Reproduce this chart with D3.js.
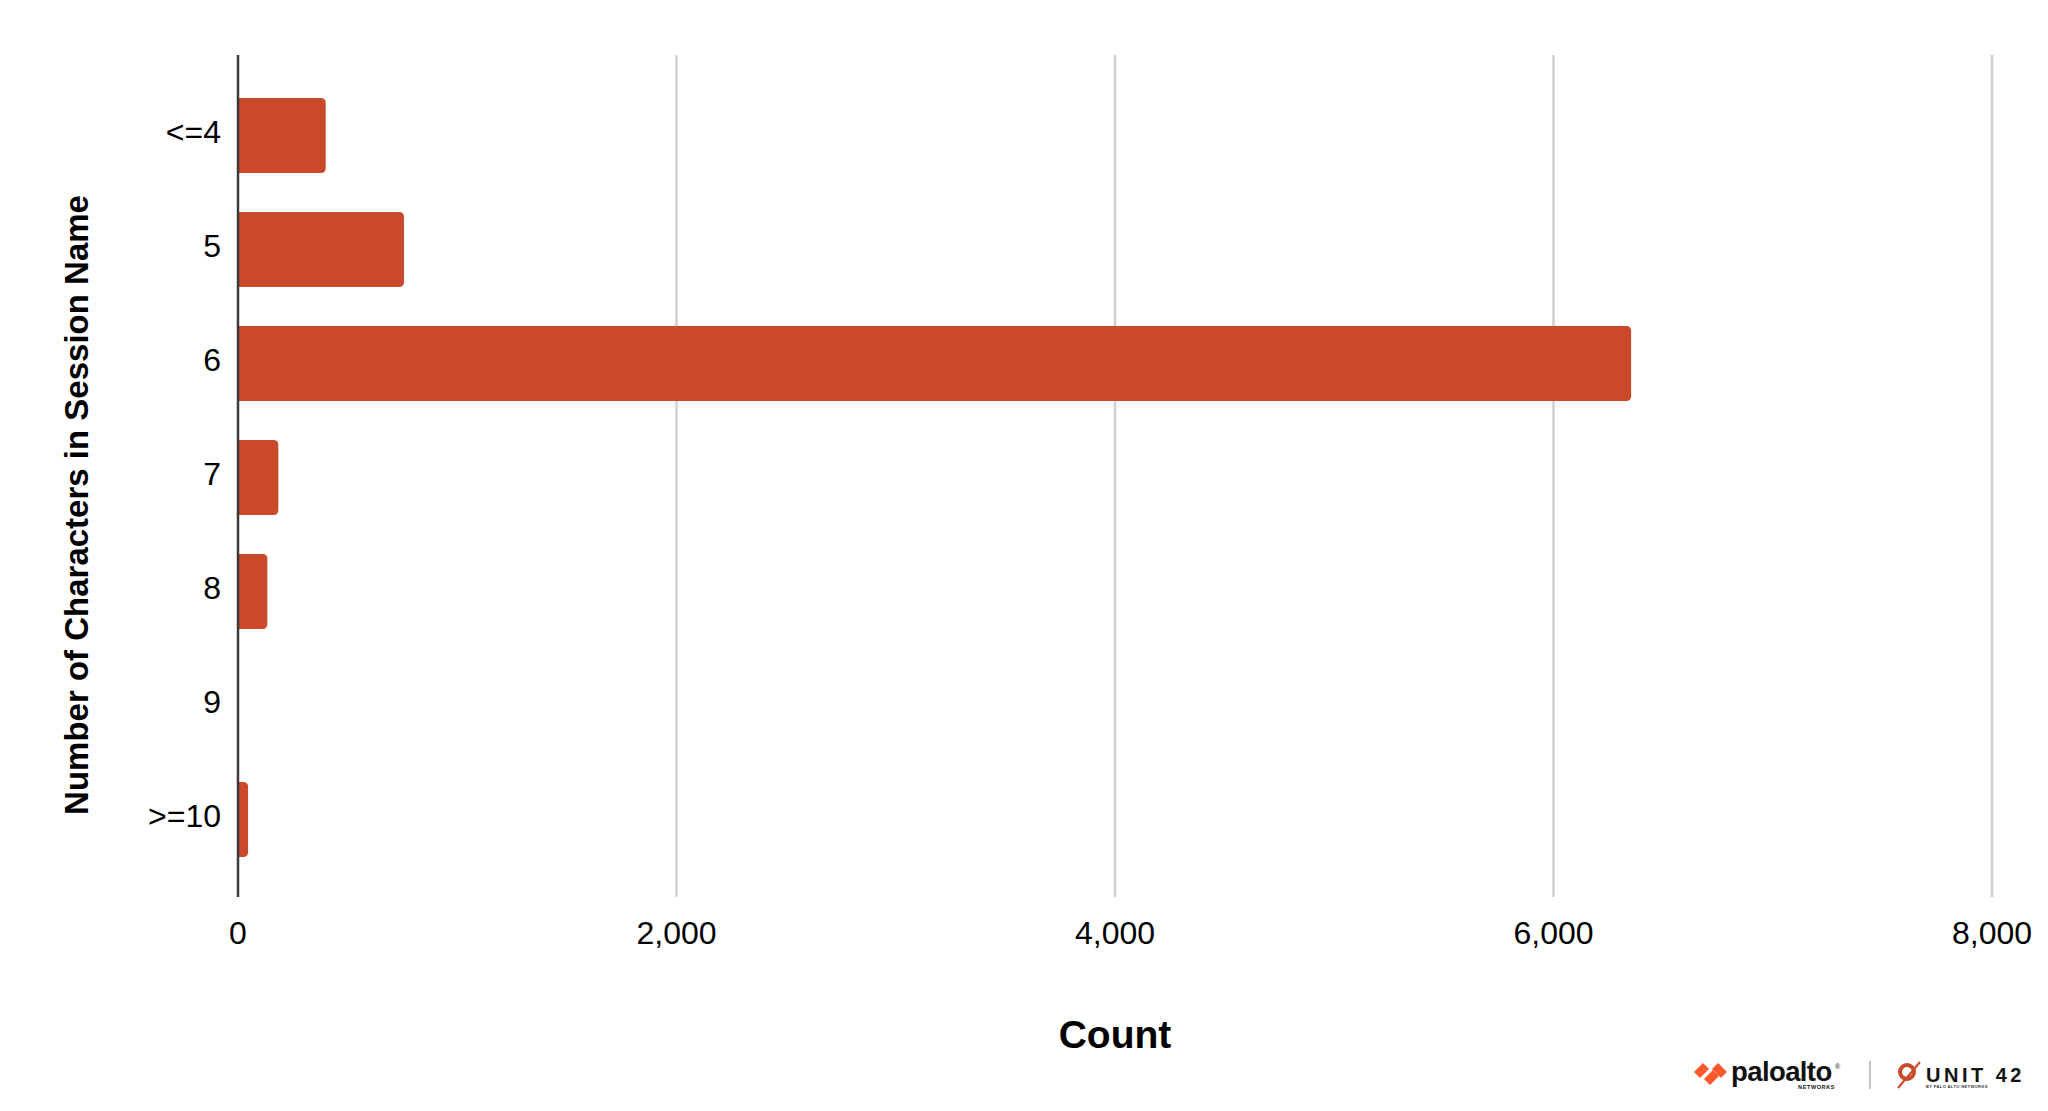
<!DOCTYPE html>
<html>
<head>
<meta charset="utf-8">
<script src="https://cdn.jsdelivr.net/npm/d3@7"></script>
<style>
  html, body { margin: 0; padding: 0; background: #ffffff; }
  svg { display: block; }
  text { font-family: "Liberation Sans", Arial, Helvetica, sans-serif; }
</style>
</head>
<body>
<svg id="chart" width="2048" height="1111"></svg>
<script>
const categories = ["<=4", "5", "6", "7", "8", "9", ">=10"];
const counts = [400, 757, 6354, 184, 134, 3, 46];
const xTicks = [0, 2000, 4000, 6000, 8000];
const xTitle = "Count";
const yTitle = "Number of Characters in Session Name";

const W = 2048, H = 1111;
const svg = d3.select("#chart");

const plot = { left: 238, right: 1992, top: 55, bottom: 897 };
const x = d3.scaleLinear().domain([0, 8000]).range([plot.left, plot.right]);
const y = d3.scaleBand().domain(categories)
  .range([78.5, 876.5]).paddingInner(0.342).paddingOuter(0.171);

const barColor = "#c9492a";

// gridlines
svg.append("g").selectAll("line").data(xTicks.filter(d => d > 0)).join("line")
  .attr("x1", d => x(d)).attr("x2", d => x(d))
  .attr("y1", plot.top).attr("y2", plot.bottom)
  .attr("stroke", "#d0d0d0").attr("stroke-width", 2.5);

// bars with right rounded corners
function barPath(d, i) {
  const x0 = x(0), x1 = x(counts[i]);
  const y0 = y(d), h = y.bandwidth();
  const r = Math.min(5, (x1 - x0) / 2);
  const p = d3.path();
  p.moveTo(x0, y0);
  p.lineTo(x1 - r, y0);
  p.quadraticCurveTo(x1, y0, x1, y0 + r);
  p.lineTo(x1, y0 + h - r);
  p.quadraticCurveTo(x1, y0 + h, x1 - r, y0 + h);
  p.lineTo(x0, y0 + h);
  p.closePath();
  return p.toString();
}
svg.append("g").selectAll("path").data(categories).join("path")
  .attr("d", (d, i) => barPath(d, i))
  .attr("fill", barColor);

// y axis line
svg.append("line")
  .attr("x1", x(0)).attr("x2", x(0))
  .attr("y1", plot.top).attr("y2", plot.bottom)
  .attr("stroke", "#3a3a3a").attr("stroke-width", 2.5);

// y tick labels
svg.append("g").selectAll("text").data(categories).join("text")
  .attr("x", x(0) - 17)
  .attr("y", d => y(d) + y.bandwidth() / 2 - 3.5)
  .attr("dy", "0.35em")
  .attr("text-anchor", "end")
  .attr("font-size", 32)
  .attr("fill", "#000")
  .text(d => d);

// x tick labels
const fmt = d3.format(",");
svg.append("g").selectAll("text").data(xTicks).join("text")
  .attr("x", d => x(d))
  .attr("y", 933)
  .attr("dy", "0.35em")
  .attr("text-anchor", "middle")
  .attr("font-size", 32)
  .attr("fill", "#000")
  .text(d => fmt(d));

// axis titles
svg.append("text")
  .attr("x", 1115).attr("y", 1034).attr("dy", "0.35em")
  .attr("text-anchor", "middle")
  .attr("font-size", 39).attr("font-weight", "bold")
  .attr("fill", "#000")
  .text(xTitle);

svg.append("text")
  .attr("transform", "translate(76,505) rotate(-90)")
  .attr("dy", "0.35em")
  .attr("text-anchor", "middle")
  .attr("font-size", 33).attr("font-weight", "bold")
  .attr("fill", "#000")
  .text(yTitle);

// logos (bottom right)
const logo = svg.append("g");
const orange = "#fa582d";
const mark = logo.append("g").attr("transform", "translate(1694,1063)");
mark.append("path").attr("d", "M0,9 L9,0 L15,6 L6,15 Z").attr("fill", orange);
mark.append("path").attr("d", "M10,16 L19,7 L25,13 L16,22 Z").attr("fill", orange);
mark.append("path").attr("d", "M18,6 L24,0 L33,9 L27,15 Z").attr("fill", orange);
logo.append("text").attr("x", 1731).attr("y", 1081)
  .attr("font-size", 27.5).attr("font-weight", "bold").attr("fill", "#111")
  .attr("letter-spacing", -0.6)
  .text("paloalto");
logo.append("text").attr("x", 1835).attr("y", 1069)
  .attr("font-size", 7).attr("fill", "#111").text("®");
logo.append("text").attr("x", 1835).attr("y", 1089)
  .attr("text-anchor", "end")
  .attr("font-size", 5.5).attr("font-weight", "bold").attr("fill", "#111")
  .attr("letter-spacing", 0.6)
  .text("NETWORKS");
logo.append("line").attr("x1", 1870).attr("x2", 1870).attr("y1", 1061).attr("y2", 1089)
  .attr("stroke", "#888").attr("stroke-width", 1);
// unit42 mark
const u = logo.append("g").attr("transform", "translate(1898,1063)");
u.append("circle").attr("cx", 9).attr("cy", 9).attr("r", 7)
  .attr("fill", "none").attr("stroke", "#c9492a").attr("stroke-width", 4);
u.append("path").attr("d", "M0,25 L22,-1").attr("stroke", "#c9492a").attr("stroke-width", 2);
logo.append("text").attr("x", 1926).attr("y", 1082)
  .attr("font-size", 20).attr("font-weight", "bold").attr("fill", "#111")
  .attr("letter-spacing", 3.5)
  .text("UNIT 42");
logo.append("text").attr("x", 1926).attr("y", 1088)
  .attr("font-size", 4).attr("font-weight", "bold").attr("fill", "#333")
  .attr("letter-spacing", 0.4)
  .text("BY PALO ALTO NETWORKS");
</script>
</body>
</html>
